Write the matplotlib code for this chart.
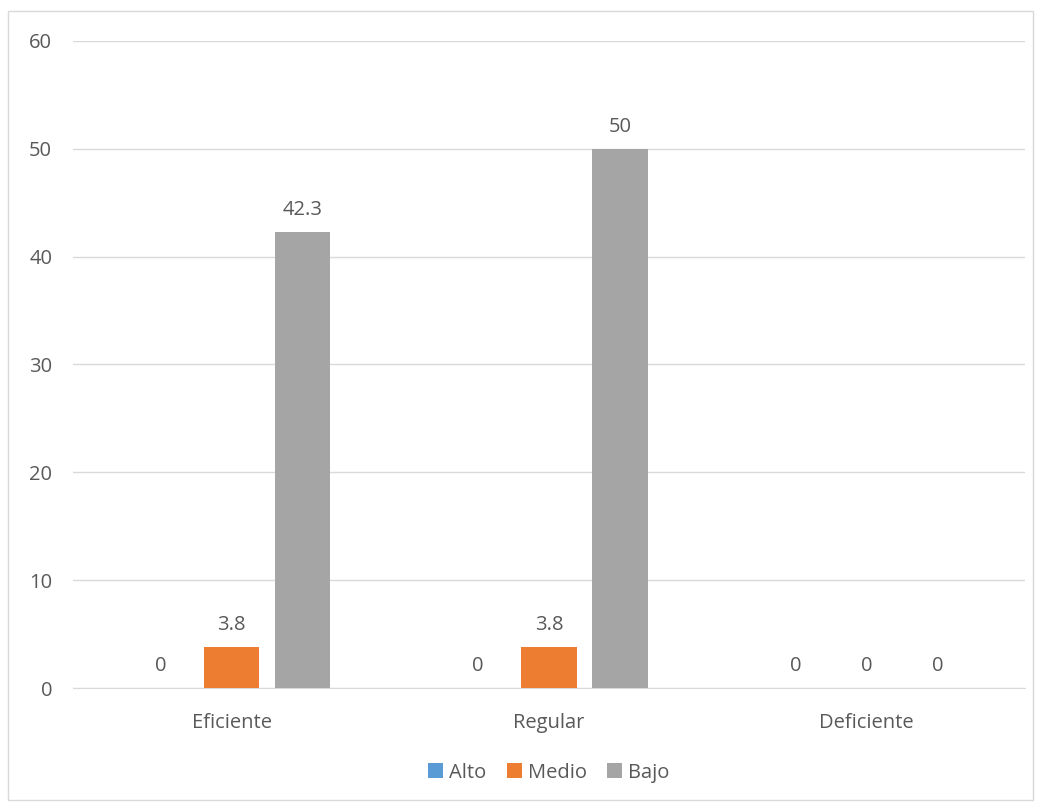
import matplotlib.pyplot as plt
import numpy as np
from matplotlib.patches import Rectangle

categories = ['Eficiente', 'Regular', 'Deficiente']
series_names = ['Alto', 'Medio', 'Bajo']
alto = [0, 0, 0]
medio = [3.8, 3.8, 0]
bajo = [42.3, 50, 0]
colors = ['#5b9bd5', '#ed7d31', '#a5a5a5']

text_color = '#595959'
fs = 14.5
plt.rcParams['font.family'] = ['Open Sans', 'DejaVu Sans']

fig = plt.figure(figsize=(10.41, 8.05), dpi=100)
fig.patches.append(Rectangle((8 / 1041, 5 / 805), 1025 / 1041, 789 / 805, transform=fig.transFigure,
                             fill=False, edgecolor='#d9d9d9', linewidth=1))
ax = fig.add_axes([73 / 1041, 117 / 805, 952 / 1041, 647 / 805])

x = np.arange(len(categories))
width = 0.174
offset = 0.224
for i, (name, vals) in enumerate(zip(series_names, [alto, medio, bajo])):
    pos = x + (i - 1) * offset
    ax.bar(pos, vals, width, color=colors[i], label=name, zorder=3)
    for p, v in zip(pos, vals):
        ax.text(p, v + 1.1, f'{v:g}', ha='center', va='bottom', fontsize=fs, color=text_color)

ax.set_xlim(-0.5, 2.5)
ax.set_ylim(0, 60)
ax.set_yticks(range(0, 61, 10))
ax.set_xticks(x)
ax.set_xticklabels(categories)
ax.grid(axis='y', color='#d9d9d9', linewidth=1, zorder=0)
for s in ['top', 'right', 'left']:
    ax.spines[s].set_visible(False)
ax.spines['bottom'].set_color('#d9d9d9')
ax.tick_params(axis='both', length=0, labelsize=fs, colors=text_color)
ax.tick_params(axis='x', pad=18)
ax.tick_params(axis='y', pad=15)

ax.legend(loc='center', bbox_to_anchor=(0.5, -0.131), ncol=3, frameon=False, fontsize=fs,
          handlelength=0.75, handleheight=0.75, handletextpad=0.3, columnspacing=1.0,
          labelcolor=text_color)

fig.savefig('out.png', dpi=100)
